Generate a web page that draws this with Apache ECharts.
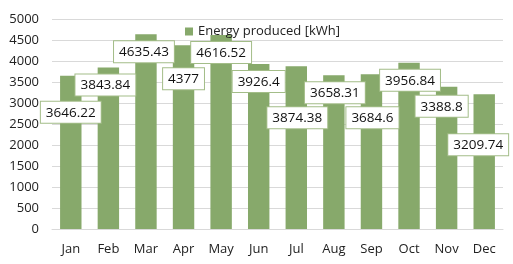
<!DOCTYPE html>
<html><head><meta charset="utf-8">
<script src="https://cdn.jsdelivr.net/npm/echarts@6/dist/echarts.min.js"></script>
<style>html,body{margin:0;padding:0;background:#fff}#c{width:513px;height:264px}</style>
</head><body><div id="c"></div>
<script>
var months = ['Jan','Feb','Mar','Apr','May','Jun','Jul','Aug','Sep','Oct','Nov','Dec'];
var energy = [3646.22,3843.84,4635.43,4377,4616.52,3926.4,3874.38,3658.31,3684.6,3956.84,3388.8,3209.74];
var yTicks = [0,500,1000,1500,2000,2500,3000,3500,4000,4500,5000];
// label placement offsets (styling, px)
var labelDx = [0,-3,-2,0,0,0,1,1,1,1,-5,-6];
var labelDy = [19,0,0,16,0,0,34,0,26,0,2,33];

var FONT = '"Open Sans", sans-serif';
var chart = echarts.init(document.getElementById('c'));
chart.setOption({
  animation:false,
  grid:{left:52,right:10,top:19,bottom:35,containLabel:false},
  legend:{show:true,top:20,left:180,itemWidth:8,itemHeight:8,itemGap:4,
    textStyle:{fontFamily:FONT,fontSize:13,color:'#222'},icon:'rect'},
  xAxis:{type:'category',data:months,
    axisLine:{lineStyle:{color:'#d9d9d9'}},axisTick:{show:false},
    axisLabel:{fontFamily:FONT,fontSize:13,color:'#222',margin:14}},
  yAxis:{type:'value',min:yTicks[0],max:yTicks[yTicks.length-1],interval:500,
    axisLine:{show:false},axisTick:{show:false},
    splitLine:{lineStyle:{color:'#d9d9d9'}},
    axisLabel:{fontFamily:FONT,fontSize:13,color:'#222',margin:13,
      formatter:function(v){return String(v);}}},
  series:[{name:'Energy produced [kWh]',type:'bar',barWidth:'57%',
    itemStyle:{color:'#87a96b'},
    data:energy.map(function(v,i){return {value:v,label:{offset:[labelDx[i],labelDy[i]]}};}),
    label:{show:true,position:'insideTop',distance:7,
      fontFamily:FONT,fontSize:13.5,color:'#111',
      backgroundColor:'#fff',borderColor:'#a3bd88',borderWidth:1,
      padding:[4,5,3,5],
      formatter:function(p){return String(p.value);}}
  }]
});
</script></body></html>
